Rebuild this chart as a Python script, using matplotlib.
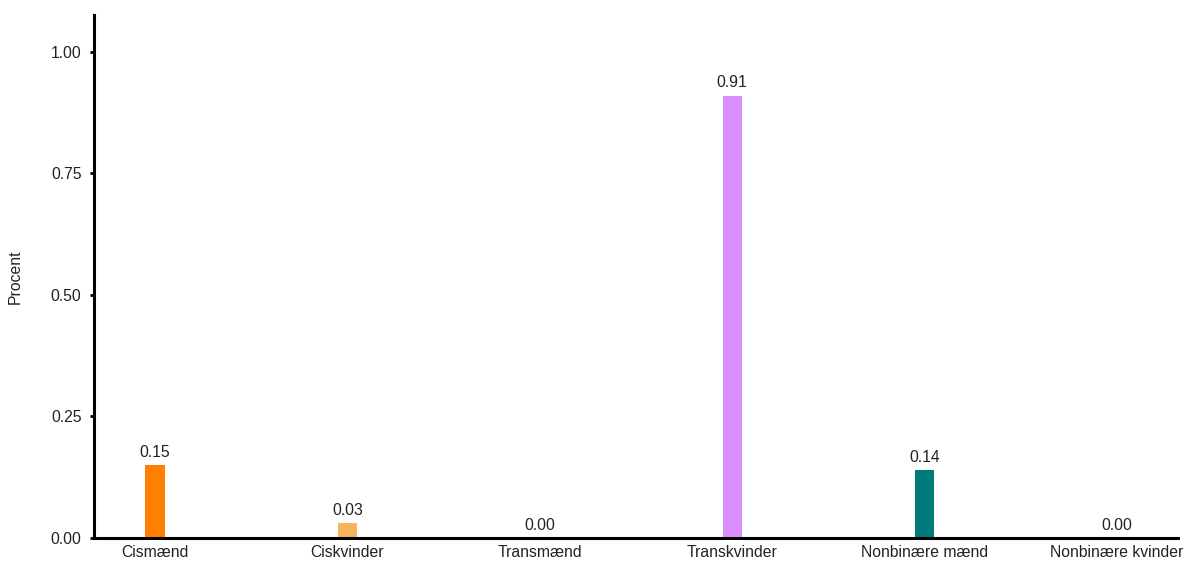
import matplotlib
matplotlib.use("Agg")
import matplotlib.pyplot as plt
import numpy as np

# ── Data ────────────────────────────────────────────────
categories = ["Cismænd", "Ciskvinder", "Transmænd", "Transkvinder",
              "Nonbinære mænd", "Nonbinære kvinder"]
values     = [0.15, 0.03, 0.00, 0.91, 0.14, 0.00]
colors     = ["#FF7F00", "#F5B55A", "#B0B0B0", "#DA8EFF", "#007B7B", "#B0B0B0"]
y_ticks    = [0.00, 0.25, 0.50, 0.75, 1.00]
# ────────────────────────────────────────────────────────

plt.rcParams['font.family'] = ['Liberation Sans', 'DejaVu Sans']
FS = 11.3

fig = plt.figure(figsize=(11.88, 5.64), dpi=100)
ax = fig.add_axes([0.0791, 0.0461, 0.9125, 0.9273])

x = np.arange(len(categories))
bars = ax.bar(x, values, width=0.1, color=colors)

for bar, v in zip(bars, values):
    ax.text(bar.get_x() + bar.get_width() / 2, v + 0.011, f"{v:.2f}",
            ha='center', va='bottom', fontsize=FS, color='#222222')

ax.set_xlim(-0.317, len(categories) - 1 + 0.317)
ax.set_ylim(0, 1.076)
ax.set_xticks(x)
ax.set_xticklabels(categories, fontsize=FS, color='#222222')
ax.set_yticks(y_ticks)
ax.set_yticklabels([f"{t:.2f}" for t in y_ticks], fontsize=FS, color='#222222')
ax.set_ylabel("Procent", fontsize=FS, color='#222222', labelpad=20)

for side in ['top', 'right']:
    ax.spines[side].set_visible(False)
for side in ['left', 'bottom']:
    ax.spines[side].set_linewidth(2.2)
    ax.spines[side].set_color('black')

ax.tick_params(axis='x', length=0, pad=5)
ax.tick_params(axis='y', length=3, width=2, pad=6)

plt.savefig("out.png", dpi=100)
plt.close()
